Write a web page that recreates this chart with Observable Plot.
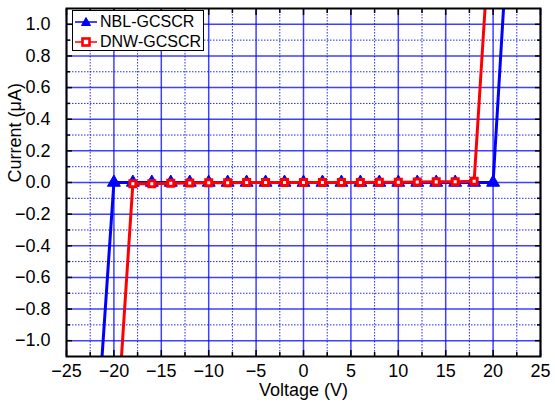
<!DOCTYPE html>
<html><head><meta charset="utf-8">
<script src="https://cdn.jsdelivr.net/npm/d3@7"></script>
<script src="https://cdn.jsdelivr.net/npm/@observablehq/plot@0.6"></script>
<style>
body{margin:0;background:#fff;font-family:"Liberation Sans",Arial,sans-serif;}
#wrap{position:relative;width:555px;height:403px;}
#legend{position:absolute;left:72px;top:10px;width:132px;height:41px;border:1.5px solid #000;background:#fff;font-size:16px;box-sizing:border-box;}
.row{display:flex;align-items:center;height:18px;margin-top:2px;}
.row svg{margin-left:2px;margin-right:3px;}
</style></head>
<body><div id="wrap"><div id="legend"></div></div>
<script>
// Data
const nblVoltage = [-21.25, -20, -18, -16, -14, -12, -10, -8, -6, -4, -2, 0, 2, 4, 6, 8, 10, 12, 14, 16, 18, 20, 21.1];
const nblCurrent = [-1.1, 0, 0, 0, 0, 0, 0, 0, 0, 0, 0, 0, 0, 0, 0, 0, 0, 0, 0, 0, 0, 0, 1.1];
const dnwVoltage = [-19.2, -18, -16, -14, -12, -10, -8, -6, -4, -2, 0, 2, 4, 6, 8, 10, 12, 14, 16, 18, 19.15];
const dnwCurrent = [-1.1, -0.008, -0.008, -0.005, -0.003, -0.002, -0.001, 0, 0, 0, 0, 0, 0, 0, 0.001, 0.002, 0.003, 0.004, 0.005, 0.008, 1.1];
const seriesNames = ["NBL-GCSCR", "DNW-GCSCR"];
const seriesColors = ["#0000ff", "#ff0000"];
const xMajor = [-25, -20, -15, -10, -5, 0, 5, 10, 15, 20, 25];
const xMinor = [-22.5, -17.5, -12.5, -7.5, -2.5, 2.5, 7.5, 12.5, 17.5, 22.5];
const yMajor = [-1.0, -0.8, -0.6, -0.4, -0.2, 0.0, 0.2, 0.4, 0.6, 0.8, 1.0];
const yMinor = [-0.9, -0.7, -0.5, -0.3, -0.1, 0.1, 0.3, 0.5, 0.7, 0.9];

const nbl = nblVoltage.map((v, i) => ({v, c: nblCurrent[i]}));
const dnw = dnwVoltage.map((v, i) => ({v, c: dnwCurrent[i]}));
const nblMarks = nbl.filter(d => Math.abs(d.c) < 0.5);
const dnwMarks = dnw.filter(d => Math.abs(d.c) < 0.5);

const chart = Plot.plot({
  width: 555, height: 403,
  marginLeft: 66, marginRight: 15, marginTop: 8, marginBottom: 47,
  style: {fontFamily: "Liberation Sans, Arial, sans-serif", fontSize: "18px", color: "#000", background: "#fff"},
  x: {domain: [-25, 25]},
  y: {domain: [-1.1, 1.1]},
  marks: [
    Plot.gridX(xMinor, {stroke: "#0000ff", strokeOpacity: 0.85, strokeDasharray: "1.5,1.5", strokeWidth: 1}),
    Plot.gridY(yMinor, {stroke: "#0000ff", strokeOpacity: 0.85, strokeDasharray: "1.5,1.5", strokeWidth: 1}),
    Plot.gridX(xMajor, {stroke: "#0000ff", strokeOpacity: 0.75, strokeWidth: 1.5}),
    Plot.gridY(yMajor, {stroke: "#0000ff", strokeOpacity: 0.75, strokeWidth: 1.5}),
    Plot.axisX(xMajor, {anchor: "bottom", tickSize: 0, tickPadding: 8, label: null, fontSize: 18, tickFormat: d => d3.format("d")(d)}),
    Plot.axisY(yMajor, {anchor: "left", tickSize: 0, tickPadding: 16, label: null, fontSize: 18, tickFormat: d3.format(".1f")}),
    Plot.axisX(xMajor, {anchor: "bottom", tickSize: -6, label: null, tickFormat: () => "", strokeWidth: 1.5}),
    Plot.axisX(xMinor, {anchor: "bottom", tickSize: -4, label: null, tickFormat: () => "", strokeWidth: 1.5}),
    Plot.axisX(xMajor, {anchor: "top", tickSize: -6, label: null, tickFormat: () => "", strokeWidth: 1.5}),
    Plot.axisX(xMinor, {anchor: "top", tickSize: -4, label: null, tickFormat: () => "", strokeWidth: 1.5}),
    Plot.axisY(yMajor, {anchor: "left", tickSize: -6, label: null, tickFormat: () => "", strokeWidth: 1.5}),
    Plot.axisY(yMinor, {anchor: "left", tickSize: -4, label: null, tickFormat: () => "", strokeWidth: 1.5}),
    Plot.axisY(yMajor, {anchor: "right", tickSize: -6, label: null, tickFormat: () => "", strokeWidth: 1.5}),
    Plot.axisY(yMinor, {anchor: "right", tickSize: -4, label: null, tickFormat: () => "", strokeWidth: 1.5}),
    Plot.line(nbl, {x: "v", y: "c", stroke: seriesColors[0], strokeWidth: 3, clip: true}),
    Plot.dot(nblMarks, {x: "v", y: "c", symbol: "triangle", r: 4.8, fill: seriesColors[0], stroke: seriesColors[0], strokeWidth: 1}),
    Plot.line(dnw, {x: "v", y: "c", stroke: seriesColors[1], strokeWidth: 3, clip: true}),
    Plot.dot(dnwMarks, {x: "v", y: "c", symbol: "square", r: 3.4, fill: "#fff", stroke: seriesColors[1], strokeWidth: 3}),
    Plot.frame({stroke: "#000", strokeWidth: 2}),
    Plot.text(["Voltage (V)"], {frameAnchor: "bottom", lineAnchor: "middle", dy: 34, fontSize: 18, fill: "#000"}),
    Plot.text(["Current (μA)"], {frameAnchor: "left", lineAnchor: "middle", rotate: -90, dx: -51, fontSize: 18, fill: "#000"})
  ]
});
const wrap = document.getElementById("wrap");
wrap.insertBefore(chart, wrap.firstChild);

// legend
const leg = document.getElementById("legend");
const tri = '<polygon points="11,3.5 15.5,11.5 6.5,11.5" fill="#0000ff" stroke="#0000ff"/>';
const sq = '<rect x="7.5" y="4.5" width="7" height="7" fill="#fff" stroke="#ff0000" stroke-width="2.6"/>';
[tri, sq].forEach((m, i) => {
  const row = document.createElement("div");
  row.className = "row";
  row.innerHTML = `<svg width="22" height="16"><line x1="0" y1="8" x2="22" y2="8" stroke="${seriesColors[i]}" stroke-width="1.5"/>${m}</svg><span>${seriesNames[i]}</span>`;
  leg.appendChild(row);
});
</script></body></html>
